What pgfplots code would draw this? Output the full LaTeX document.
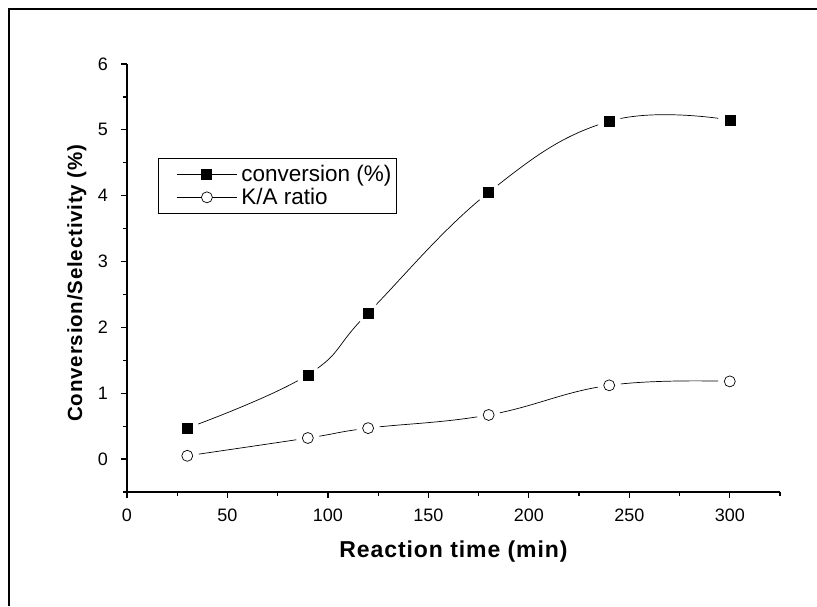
\documentclass[border=0pt]{standalone}
\usepackage{pgfplots}
\pgfplotsset{compat=1.18}
\usepackage{fontspec}
\setmainfont{Liberation Sans}
\newfontfamily\labfont[LetterSpace=4]{Liberation Sans}
\newcommand\tlf{\fontsize{18}{20}\selectfont}
\newcommand\lgf{\fontsize{22.5}{26}\selectfont}
\begin{document}
\begin{tikzpicture}
\useasboundingbox (0pt,0pt) rectangle (817pt,606pt);
\draw[line width=2pt] (9pt,0pt) -- (9pt,597pt) -- (817pt,597pt);
\begin{axis}[
  at={(127pt,114pt)}, anchor=south west,
  scale only axis, width=653pt, height=428pt,
  xmin=0, xmax=325, ymin=-0.5, ymax=6,
  axis x line*=bottom, axis y line*=left,
  axis line style={line width=1.2pt, -},
  xtick={0,50,100,150,200,250,300},
  ytick={0,1,2,3,4,5,6},
  xticklabels={\tlf 0,\tlf 50,\tlf 100,\tlf 150,\tlf 200,\tlf 250,\tlf 300},
  yticklabels={\tlf 0,\tlf 1,\tlf 2,\tlf 3,\tlf 4,\tlf 5,\tlf 6},
  minor xtick={25,75,125,175,225,275,325},
  minor ytick={-0.5,0.5,1.5,2.5,3.5,4.5,5.5},
  tick align=outside,
  major tick length=6pt, minor tick length=4pt,
  every tick/.style={line width=1.2pt, black},
  xticklabel style={yshift=-7pt},
  yticklabel style={xshift=-9.5pt},
  xlabel={\labfont\bfseries\fontsize{23}{26}\selectfont Reaction time (min)},
  ylabel={\labfont\bfseries\fontsize{20.5}{24}\selectfont Conversion/Selectivity (\%)},
  xlabel style={at={(axis description cs:0.5,-0.1145)}, anchor=north, inner sep=0pt},
  ylabel style={at={(axis description cs:-0.062,0.488)}, anchor=south, inner sep=0pt},
  legend style={at={(0.0475,0.780)}, anchor=north west, draw=black, line width=0.9pt,
    inner xsep=3pt, inner ysep=5pt, row sep=1pt, nodes={inner sep=2pt}},
  legend cell align=left,
]
% line of conversion
\addplot[black, line width=0.7pt, smooth, tension=0.7, forget plot]
  coordinates {(30,0.47) (90,1.28) (120,2.22) (180,4.05) (240,5.13) (300,5.15)};
\addplot[only marks, mark=*, mark size=11.5pt, draw=white, fill=white, forget plot]
  coordinates {(30,0.47) (90,1.28) (120,2.22) (180,4.05) (240,5.13) (300,5.15)};
% line of K/A
\addplot[black, line width=0.7pt, smooth, tension=0.7, forget plot]
  coordinates {(30,0.05) (90,0.32) (120,0.47) (180,0.67) (240,1.12) (300,1.18)};
\addplot[only marks, mark=*, mark size=11.5pt, draw=white, fill=white, forget plot]
  coordinates {(30,0.05) (90,0.32) (120,0.47) (180,0.67) (240,1.12) (300,1.18)};
% marks
\addplot[only marks, black, mark=square*, mark size=5pt, mark options={fill=black},
  legend image code/.code={%
    \path (-15pt,0pt) (62pt,0pt);
    \draw[black, line width=0.7pt] (0pt,0pt) -- (60pt,0pt);
    \fill[black] (25pt,-5pt) rectangle (35pt,5pt);}]
  coordinates {(30,0.47) (90,1.28) (120,2.22) (180,4.05) (240,5.13) (300,5.15)};
\addlegendentry{\lgf conversion (\%)}
\addplot[only marks, black, mark=o, mark size=5.5pt, mark options={fill=white, line width=0.7pt},
  legend image code/.code={%
    \path (-15pt,0pt) (62pt,0pt);
    \draw[black, line width=0.7pt] (0pt,0pt) -- (60pt,0pt);
    \draw[black, fill=white, line width=0.7pt] (30pt,0pt) circle (5.5pt);}]
  coordinates {(30,0.05) (90,0.32) (120,0.47) (180,0.67) (240,1.12) (300,1.18)};
\addlegendentry{\lgf K/A ratio}
\end{axis}
\end{tikzpicture}
\end{document}
